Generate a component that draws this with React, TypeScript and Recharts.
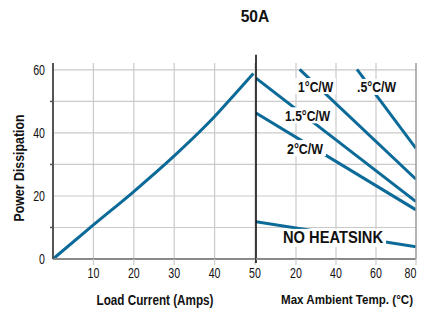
import React from 'react';
import { LineChart, Line, XAxis, YAxis, CartesianGrid, ReferenceDot, ReferenceLine } from 'recharts';

// ---- data ----
const loadCurrent = [0, 10, 20, 30, 40, 45, 49.6];
const loadPower = [0, 10.8, 21.4, 32.7, 45.2, 52.3, 58.9];

const heatsinkNames = ['.5°C/W', '1°C/W', '1.5°C/W', '2°C/W', 'NO HEATSINK'];
const startTemp = [50.5, 21.8, 0, 0, 0];
const startPower = [60.2, 60.2, 57.4, 46.3, 11.8];
const endTemp = [80, 80, 80, 80, 80];
const endPower = [35.1, 25.3, 18.2, 15.6, 3.9];
const labelTemp = [60.3, 29.8, 25.8, 24.5, 38.5];
const labelPower = [54.6, 54.9, 45.6, 35.2, 6.7];

const loadTicks = [10, 20, 30, 40, 50];
const powerTicks = [0, 10, 20, 30, 40, 50, 60];
const powerLabelTicks = [0, 20, 40, 60];
const tempTicks = [20, 40, 60, 80];
const rightTicks = [20, 40, 60, 80];
const powerDomain: [number, number] = [0, 62.2];
const rightDomain: [number, number] = [9.7, 88.1];
const dividerPower = [-1.3, 64.8];

const title = '50A';
const yTitle = 'Power Dissipation';
const xTitleLeft = 'Load Current (Amps)';
const xTitleRight = 'Max Ambient Temp. (°C)';

// ---- styles ----
const FONT = "'Liberation Sans', Arial, sans-serif";
const BLUE = '#0b6a98';
const GRID = '#cacaca';
const DIGIT_W = 5.9;
const labelWidths = [39, 35, 45, 36, 100];
const labelSizes = [15, 15, 15, 15, 17];

const loadData = loadCurrent.map((x, i) => ({ x, p: loadPower[i] }));
const heatsinkSeries = heatsinkNames.map((name, i) => ({
  name,
  data: [
    { t: startTemp[i], p: startPower[i] },
    { t: endTemp[i], p: endPower[i] },
  ],
}));

const NText = (p: any) => {
  const { x, y, text, width, size, bold, anchor = 'middle', rotate } = p;
  return (
    <text
      x={x}
      y={y}
      textAnchor={anchor}
      dominantBaseline="central"
      fontSize={size}
      fontWeight={bold ? 'bold' : 'normal'}
      fontFamily={FONT}
      fill="#111"
      textLength={width}
      lengthAdjust="spacingAndGlyphs"
      transform={rotate ? `rotate(${rotate}, ${x}, ${y})` : undefined}
    >
      {text}
    </text>
  );
};

const PowerTick = (props: any) => {
  const { x, y, payload } = props;
  const v = payload.value;
  if (powerLabelTicks.includes(v)) {
    const s = String(v);
    return <NText x={x} y={y} text={s} width={s.length * DIGIT_W} size={14} anchor="end" />;
  }
  return <line x1={x + 5} x2={x + 8} y1={y} y2={y} stroke="#555" strokeWidth={1.5} />;
};

const XTick = (props: any) => {
  const { x, y, payload, index, visibleTicksCount } = props;
  const s = String(payload.value);
  const last = props.edgeNudge && index === visibleTicksCount - 1;
  return <NText x={last ? x - 2.5 : x} y={y + 6} text={s} width={s.length * DIGIT_W} size={14} />;
};

const YTitle = (props: any) => {
  const vb = props.viewBox || {};
  const cx = vb.x + 19;
  const cy = vb.y + vb.height / 2 + 7;
  return <NText x={cx} y={cy} text={yTitle} width={107} size={14} bold rotate={-90} />;
};

const makeXTitle = (text: string, width: number, dx: number, size: number) => (props: any) => {
  const vb = props.viewBox || {};
  return <NText x={vb.x + vb.width / 2 + dx} y={vb.y + vb.height - 12.5} text={text} width={width} size={size} bold />;
};

const makeBoxLabel = (text: string, width: number, size: number) => (props: any) => {
  const { cx, cy } = props;
  const w = width + 6;
  const h = size + 1;
  return (
    <g>
      <rect x={cx - w / 2} y={cy - h / 2} width={w} height={h} fill="#fff" />
      <NText x={cx} y={cy} text={text} width={width} size={size} bold />
    </g>
  );
};

export default function App() {
  return (
    <div style={{ position: 'absolute', left: 0, top: 0, width: 421, height: 312, overflow: 'hidden', background: '#fff' }}>
      <svg width={421} height={40} style={{ position: 'absolute', left: 0, top: 0 }}>
        <NText x={255} y={16} text={title} width={28.6} size={17} bold />
      </svg>

      {/* left panel: load current */}
      <div style={{ position: 'absolute', left: 0, top: 0 }}>
        <LineChart width={270} height={312} data={loadData} margin={{ top: 63, right: 15, bottom: 0, left: 0 }}>
          <CartesianGrid stroke={GRID} strokeWidth={1.2} horizontalValues={powerTicks} verticalValues={loadTicks} />
          <XAxis
            dataKey="x"
            type="number"
            domain={[0, 50]}
            ticks={loadTicks}
            height={53}
            axisLine={{ stroke: '#8a8a8a', strokeWidth: 2 }}
            tickLine={{ stroke: GRID, strokeWidth: 1.2 }}
            tick={<XTick />}
            label={makeXTitle(xTitleLeft, 117, 1, 14)}
          />
          <YAxis
            type="number"
            domain={powerDomain}
            ticks={powerTicks}
            width={53}
            axisLine={{ stroke: '#555', strokeWidth: 2 }}
            tickLine={false}
            tick={<PowerTick />}
            label={<YTitle />}
          />
          <Line dataKey="p" type="monotone" stroke={BLUE} strokeWidth={3} dot={false} isAnimationActive={false} />
        </LineChart>
      </div>

      {/* right panel: ambient temperature */}
      <div style={{ position: 'absolute', left: 241, top: 0 }}>
        <LineChart width={180} height={312} margin={{ top: 63, right: 0, bottom: 0, left: 15 }}>
          <CartesianGrid
            stroke={GRID}
            strokeWidth={1.2}
            yAxisId="p"
            horizontalValues={powerTicks}
            verticalValues={[20, 40, 60]}
          />
          <XAxis
            dataKey="t"
            type="number"
            domain={[0, 80]}
            ticks={tempTicks}
            height={53}
            axisLine={{ stroke: '#8a8a8a', strokeWidth: 2 }}
            tickLine={{ stroke: GRID, strokeWidth: 1.2 }}
            tick={<XTick edgeNudge />}
            allowDataOverflow
            label={makeXTitle(xTitleRight, 132, 11, 12)}
          />
          <YAxis yAxisId="p" type="number" domain={powerDomain} ticks={powerTicks} hide width={0} />
          <YAxis
            yAxisId="r"
            orientation="right"
            type="number"
            domain={rightDomain}
            ticks={rightTicks}
            width={5}
            tickSize={4}
            tickFormatter={() => ''}
            axisLine={{ stroke: '#9a9a9a', strokeWidth: 1.5 }}
            tickLine={{ stroke: '#9a9a9a', strokeWidth: 1.2 }}
          />
          {heatsinkSeries.map((s) => (
            <Line
              key={s.name}
              yAxisId="p"
              data={s.data}
              dataKey="p"
              type="linear"
              stroke={BLUE}
              strokeWidth={3}
              dot={false}
              isAnimationActive={false}
            />
          ))}
          <ReferenceLine
            yAxisId="p"
            segment={[
              { x: 0, y: dividerPower[0] },
              { x: 0, y: dividerPower[1] },
            ]}
            stroke="#000"
            strokeWidth={1.5}
            ifOverflow="visible"
          />
          {heatsinkNames.map((name, i) => (
            <ReferenceDot
              key={'lbl' + name}
              yAxisId="p"
              x={labelTemp[i]}
              y={labelPower[i]}
              r={0}
              ifOverflow="visible"
              shape={makeBoxLabel(name, labelWidths[i], labelSizes[i])}
            />
          ))}
        </LineChart>
      </div>
    </div>
  );
}
